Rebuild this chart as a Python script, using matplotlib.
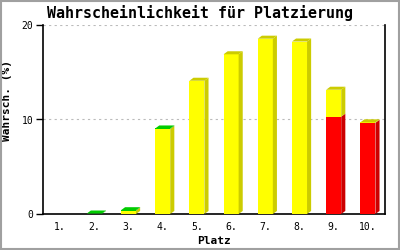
import matplotlib.pyplot as plt
from matplotlib.patches import Polygon, Rectangle
import numpy as np

places = ['1.', '2.', '3.', '4.', '5.', '6.', '7.', '8.', '9.', '10.']
red = [0, 0, 0, 0, 0, 0, 0, 0, 10.3, 9.65]
yellow = [0, 0, 0.35, 9.0, 14.1, 16.9, 18.55, 18.25, 2.85, 0.05]
green = [0, 0.05, 0.05, 0.05, 0, 0, 0, 0, 0, 0]

series = [
    (red, '#ff0000', '#cc0000', '#cc0000'),
    (yellow, '#ffff00', '#cccc00', '#cccc00'),
    (green, '#00cc00', '#00a000', '#00cc00'),
]

mono = 'DejaVu Sans Mono'

fig = plt.figure(figsize=(4, 2.5), dpi=100)
fig.patch.set_facecolor('white')
fig.add_artist(Rectangle((0.002, 0.004), 0.995, 0.992, transform=fig.transFigure,
                         fill=False, edgecolor='#a0a0a0', linewidth=1.5))
ax = fig.add_axes([0.1075, 0.144, 0.855, 0.756])

x = np.arange(len(places))
width = 0.44
dx = 0.12   # depth of the 3D side, in x units
dy = 0.32   # depth of the 3D top, in value units

bottom = np.zeros(len(places))
top_color = [None] * len(places)
for vals, face, side, topc in series:
    vals = np.array(vals, dtype=float)
    ax.bar(x, vals, width, bottom=bottom, color=face, linewidth=0, zorder=3)
    for i, v in enumerate(vals):
        if v <= 0:
            continue
        right = x[i] + width / 2
        b, t = bottom[i], bottom[i] + v
        ax.add_patch(Polygon([(right, b), (right + dx, b + dy), (right + dx, t + dy), (right, t)],
                             closed=True, facecolor=side, edgecolor='none', zorder=3))
        top_color[i] = topc
    bottom = bottom + vals

for i, c in enumerate(top_color):
    if c is None:
        continue
    left = x[i] - width / 2
    right = x[i] + width / 2
    t = bottom[i]
    ax.add_patch(Polygon([(left, t), (right, t), (right + dx, t + dy), (left + dx, t + dy)],
                         closed=True, facecolor=c, edgecolor='none', zorder=4))

ax.set_xlim(-0.5, len(places) - 0.5)
ax.set_ylim(0, 20)
ax.set_yticks([0, 10, 20])
ax.set_xticks(x)
ax.set_xticklabels(places, fontfamily=mono, fontsize=7)
ax.set_yticklabels(['0', '10', '20'], fontfamily=mono, fontsize=7)
ax.tick_params(axis='x', length=0, pad=6)
ax.tick_params(axis='y', length=5, width=1, pad=2)
ax.yaxis.grid(True, color='#bbbbbb', linestyle=(0, (2, 3)), linewidth=0.8)
ax.set_axisbelow(True)

ax.spines['top'].set_visible(False)
for s in ['left', 'right', 'bottom']:
    ax.spines[s].set_linewidth(1.2)
    ax.spines[s].set_color('black')

fig.text(0.5, 0.948, 'Wahrscheinlichkeit für Platzierung', fontfamily=mono, fontweight='bold',
         fontsize=10.8, ha='center', va='center')
ax.set_xlabel('Platz', fontfamily=mono, fontweight='bold', fontsize=8, labelpad=3)
ax.set_ylabel('Wahrsch. (%)', fontfamily=mono, fontweight='bold', fontsize=8)
ax.yaxis.set_label_coords(-0.09, 0.6)

fig.savefig('out.png', dpi=100)
